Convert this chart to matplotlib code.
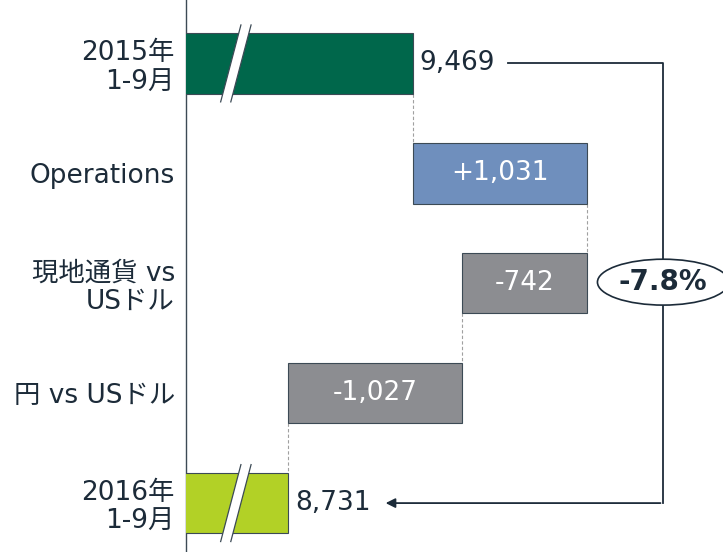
import matplotlib.pyplot as plt
from matplotlib.patches import Polygon

plt.rcParams['font.family'] = ['DejaVu Sans', 'Noto Sans CJK JP']

categories = ['2015年\n1-9月', 'Operations', '現地通貨 vs\nUSドル', '円 vs USドル', '2016年\n1-9月']
values = [9469, 1031, -742, -1027, 8731]
inside_labels = ['', '+1,031', '-742', '-1,027', '']
outside_labels = ['9,469', '', '', '', '8,731']
colors = ['#00674b', '#6f8fbd', '#8c8d91', '#8c8d91', '#b2d126']
change_label = '-7.8%'

dark = '#1c2b39'
edge = '#3c4a55'

# waterfall positions
lefts = []
rights = []
run = 0
for i, v in enumerate(values):
    if i == 0 or i == len(values) - 1:
        lefts.append(0)
        rights.append(v)
        run = v
    else:
        lefts.append(min(run, run + v))
        rights.append(max(run, run + v))
        run = run + v

fig = plt.figure(figsize=(7.23, 5.52), dpi=100)
ax = fig.add_axes([186 / 723, 0, 537 / 723, 1])
x0 = 8126
ax.set_xlim(x0, x0 + 537 / 0.169)
ax.set_ylim(4.445, -0.577)

ypos = list(range(len(values)))
ax.barh(ypos, [r - l for l, r in zip(lefts, rights)], left=lefts, height=0.55,
        color=colors, edgecolor=edge, linewidth=0.8, zorder=3)

# dashed connectors between steps
for i in range(len(values) - 1):
    if i + 1 < len(values) - 1:
        xc = lefts[i + 1] if values[i + 1] >= 0 else rights[i + 1]
    else:
        xc = rights[i + 1]
    ax.plot([xc, xc], [i + 0.275, i + 1 - 0.275], color='#a0a0a0', lw=0.8,
            ls=(0, (3, 2)), zorder=2)

# break marks on the first and last bars
for i in (0, len(values) - 1):
    bx = x0 + 265
    dx = 60
    h = 0.35
    poly = Polygon([[bx - dx, i + h], [bx + dx, i - h], [bx + dx + 60, i - h], [bx - dx + 60, i + h]],
                   closed=True, facecolor='white', edgecolor='none', zorder=4)
    ax.add_patch(poly)
    ax.plot([bx - dx, bx + dx], [i + h, i - h], color=edge, lw=0.9, zorder=5)
    ax.plot([bx - dx + 60, bx + dx + 60], [i + h, i - h], color=edge, lw=0.9, zorder=5)

for i in ypos:
    if inside_labels[i]:
        ax.text((lefts[i] + rights[i]) / 2, i, inside_labels[i], ha='center', va='center',
                color='white', fontsize=19, zorder=6)
    if outside_labels[i]:
        ax.text(rights[i] + 40, i, outside_labels[i], ha='left', va='center',
                color=dark, fontsize=19, zorder=6)

# bracket with percentage change
bxr = 10950
ax.plot([rights[0] + 560, bxr, bxr], [0, 0, 4], color=dark, lw=1.3, zorder=2)
ax.annotate('', xy=(rights[-1] + 560, 4), xytext=(bxr, 4),
            arrowprops=dict(arrowstyle='-|>', color=dark, lw=1.3, mutation_scale=14))
ax.text(bxr, 1.99, change_label, ha='center', va='center', fontsize=20, fontweight='bold',
        color=dark, zorder=6,
        bbox=dict(boxstyle='ellipse,pad=0.08', facecolor='white', edgecolor=dark, lw=1.2))

ax.set_yticks(ypos)
ax.set_yticklabels(categories, fontsize=19, color=dark, multialignment='right',
                   linespacing=1.15)
ax.tick_params(axis='y', length=0, pad=8)
ax.set_xticks([])
for s in ['top', 'right', 'bottom']:
    ax.spines[s].set_visible(False)
ax.spines['left'].set_color(edge)
ax.spines['left'].set_linewidth(1.0)

fig.savefig('out.png', dpi=100)
